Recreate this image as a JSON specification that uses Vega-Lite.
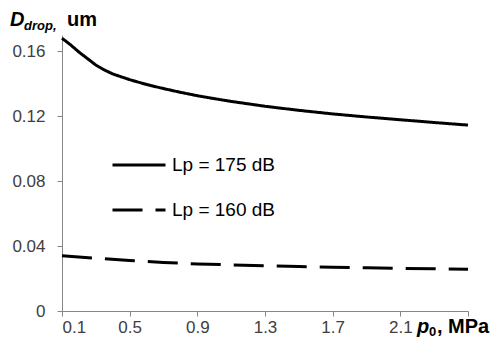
{
  "$schema": "https://vega.github.io/schema/vega-lite/v6.json",
  "width": 406,
  "height": 276,
  "autosize": {"type": "none"},
  "padding": {"left": 62, "top": 35, "right": 25, "bottom": 34},
  "background": "white",
  "config": {
    "view": {"stroke": null},
    "font": "Liberation Sans",
    "axis": {
      "grid": false,
      "domainColor": "#868686",
      "tickColor": "#868686",
      "tickSize": 5,
      "labelFont": "Liberation Sans",
      "labelFontSize": 17,
      "labelColor": "#404040",
      "title": null
    }
  },
  "datasets": {
    "curves": [
      {"p": 0.1, "d": 0.168, "s": "Lp = 175 dB"},
      {"p": 0.15, "d": 0.164, "s": "Lp = 175 dB"},
      {"p": 0.2, "d": 0.1595, "s": "Lp = 175 dB"},
      {"p": 0.25, "d": 0.1555, "s": "Lp = 175 dB"},
      {"p": 0.3, "d": 0.1515, "s": "Lp = 175 dB"},
      {"p": 0.35, "d": 0.1485, "s": "Lp = 175 dB"},
      {"p": 0.4, "d": 0.146, "s": "Lp = 175 dB"},
      {"p": 0.5, "d": 0.1425, "s": "Lp = 175 dB"},
      {"p": 0.6, "d": 0.1395, "s": "Lp = 175 dB"},
      {"p": 0.7, "d": 0.137, "s": "Lp = 175 dB"},
      {"p": 0.8, "d": 0.1347, "s": "Lp = 175 dB"},
      {"p": 0.9, "d": 0.1326, "s": "Lp = 175 dB"},
      {"p": 1.0, "d": 0.1308, "s": "Lp = 175 dB"},
      {"p": 1.1, "d": 0.1291, "s": "Lp = 175 dB"},
      {"p": 1.3, "d": 0.1261, "s": "Lp = 175 dB"},
      {"p": 1.5, "d": 0.1236, "s": "Lp = 175 dB"},
      {"p": 1.7, "d": 0.1214, "s": "Lp = 175 dB"},
      {"p": 1.9, "d": 0.1195, "s": "Lp = 175 dB"},
      {"p": 2.1, "d": 0.1178, "s": "Lp = 175 dB"},
      {"p": 2.3, "d": 0.1161, "s": "Lp = 175 dB"},
      {"p": 2.5, "d": 0.1145, "s": "Lp = 175 dB"},
      {"p": 0.1, "d": 0.034, "s": "Lp = 160 dB"},
      {"p": 0.3, "d": 0.0325, "s": "Lp = 160 dB"},
      {"p": 0.5, "d": 0.0311, "s": "Lp = 160 dB"},
      {"p": 0.7, "d": 0.0299, "s": "Lp = 160 dB"},
      {"p": 0.9, "d": 0.029, "s": "Lp = 160 dB"},
      {"p": 1.1, "d": 0.0284, "s": "Lp = 160 dB"},
      {"p": 1.3, "d": 0.0279, "s": "Lp = 160 dB"},
      {"p": 1.5, "d": 0.0274, "s": "Lp = 160 dB"},
      {"p": 1.7, "d": 0.027, "s": "Lp = 160 dB"},
      {"p": 1.9, "d": 0.0266, "s": "Lp = 160 dB"},
      {"p": 2.1, "d": 0.0263, "s": "Lp = 160 dB"},
      {"p": 2.3, "d": 0.026, "s": "Lp = 160 dB"},
      {"p": 2.5, "d": 0.0257, "s": "Lp = 160 dB"}
    ]
  },
  "layer": [
    {
      "data": {"name": "curves"},
      "mark": {"type": "line", "strokeWidth": 3, "color": "black", "clip": false},
      "encoding": {
        "x": {
          "field": "p", "type": "quantitative",
          "scale": {"domain": [0.1, 2.5], "nice": false, "zero": false},
          "axis": {
            "values": [0.1, 0.5, 0.9, 1.3, 1.7, 2.1, 2.5],
            "labelExpr": "datum.value > 2.4 ? '' : format(datum.value, '.1f')",
            "labelPadding": 3
          }
        },
        "y": {
          "field": "d", "type": "quantitative",
          "scale": {"domain": [0, 0.17], "nice": false},
          "axis": {
            "values": [0, 0.04, 0.08, 0.12, 0.16],
            "labelExpr": "datum.value == 0 ? '0' : format(datum.value, '.2f')",
            "labelPadding": 12
          }
        },
        "strokeDash": {
          "field": "s", "type": "nominal",
          "scale": {"domain": ["Lp = 175 dB", "Lp = 160 dB"], "range": [[1, 0], [30, 13]]},
          "legend": {
            "title": null,
            "orient": "none",
            "legendX": 49,
            "legendY": 120,
            "symbolType": "stroke",
            "symbolSize": 2809,
            "symbolStrokeWidth": 3,
            "symbolStrokeColor": "black",
            "clipHeight": 20,
            "rowPadding": 25,
            "labelFont": "Liberation Sans",
            "labelFontSize": 19,
            "labelColor": "black",
            "labelOffset": 5
          }
        }
      }
    },
    {
      "data": {"values": [{"t": "D"}]},
      "mark": {"type": "text", "align": "left", "baseline": "alphabetic", "fontSize": 20, "fontWeight": "bold", "fontStyle": "italic", "dx": -52, "dy": -9, "clip": false},
      "encoding": {"x": {"datum": 0.1, "type": "quantitative"}, "y": {"datum": 0.17, "type": "quantitative"}, "text": {"field": "t"}}
    },
    {
      "data": {"values": [{"t": "drop,"}]},
      "mark": {"type": "text", "align": "left", "baseline": "alphabetic", "fontSize": 13, "fontWeight": "bold", "fontStyle": "italic", "dx": -38, "dy": -5, "clip": false},
      "encoding": {"x": {"datum": 0.1, "type": "quantitative"}, "y": {"datum": 0.17, "type": "quantitative"}, "text": {"field": "t"}}
    },
    {
      "data": {"values": [{"t": "um"}]},
      "mark": {"type": "text", "align": "left", "baseline": "alphabetic", "fontSize": 20, "fontWeight": "bold", "dx": 5, "dy": -9, "clip": false},
      "encoding": {"x": {"datum": 0.1, "type": "quantitative"}, "y": {"datum": 0.17, "type": "quantitative"}, "text": {"field": "t"}}
    },
    {
      "data": {"values": [{"t": "p"}]},
      "mark": {"type": "text", "align": "left", "baseline": "alphabetic", "fontSize": 20, "fontWeight": "bold", "fontStyle": "italic", "dx": -51, "dy": 22, "clip": false},
      "encoding": {"x": {"datum": 2.5, "type": "quantitative"}, "y": {"datum": 0, "type": "quantitative"}, "text": {"field": "t"}}
    },
    {
      "data": {"values": [{"t": "0"}]},
      "mark": {"type": "text", "align": "left", "baseline": "alphabetic", "fontSize": 13, "fontWeight": "bold", "dx": -39, "dy": 25, "clip": false},
      "encoding": {"x": {"datum": 2.5, "type": "quantitative"}, "y": {"datum": 0, "type": "quantitative"}, "text": {"field": "t"}}
    },
    {
      "data": {"values": [{"t": ", MPa"}]},
      "mark": {"type": "text", "align": "left", "baseline": "alphabetic", "fontSize": 20, "fontWeight": "bold", "dx": -31, "dy": 22, "clip": false},
      "encoding": {"x": {"datum": 2.5, "type": "quantitative"}, "y": {"datum": 0, "type": "quantitative"}, "text": {"field": "t"}}
    }
  ]
}
